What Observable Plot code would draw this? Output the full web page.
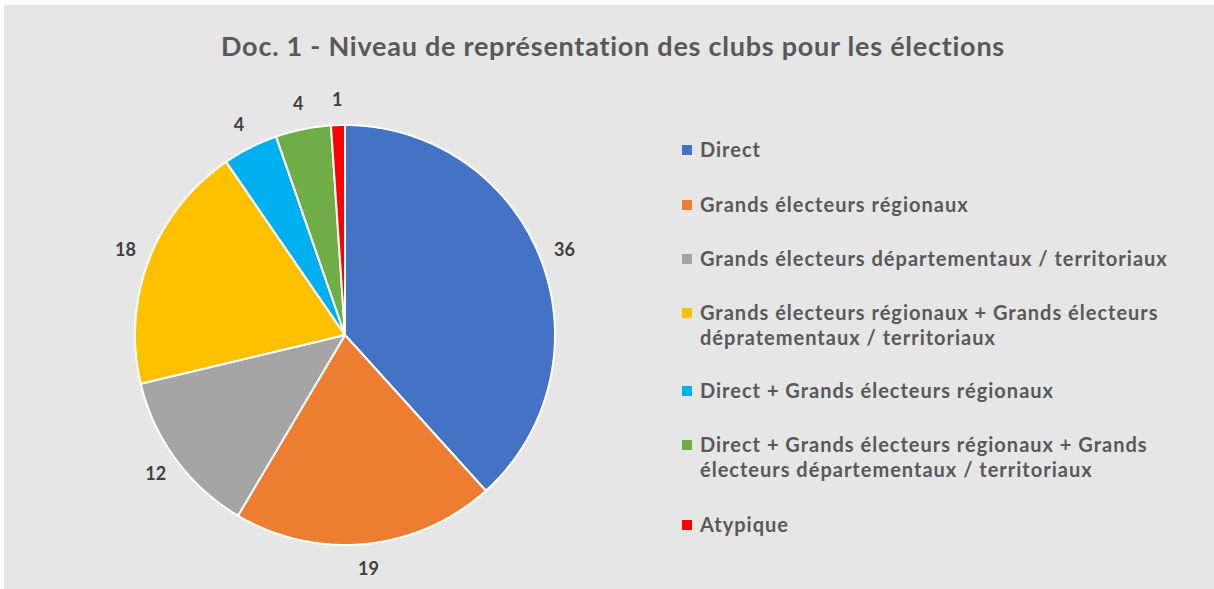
<!DOCTYPE html>
<html>
<head>
<meta charset="utf-8">
<script src="https://cdn.jsdelivr.net/npm/d3@7"></script>
<script src="https://cdn.jsdelivr.net/npm/@observablehq/plot@0.6"></script>
<style>
  html, body { margin: 0; padding: 0; background: #ffffff; overflow: hidden; }
  #frame { position: absolute; left: 4px; top: 5px; width: 1210px; height: 584px; background: #e6e6e6; }
  #title { position: absolute; left: 0; top: 29px; width: 1226px; text-align: center;
           font-family: Lato, sans-serif; font-weight: bold; font-size: 27px; letter-spacing: 0.75px; color: #595959; }
  #chart { position: absolute; left: 82px; top: 72px; }
  #legend { position: absolute; left: 683px; top: 0; font-family: Lato, sans-serif; font-weight: bold;
            font-size: 20px; letter-spacing: 1px; color: #595959; }
  .item { position: absolute; left: 0; width: 520px; line-height: 25px; }
  .sw { position: absolute; left: -1px; top: 8px; width: 10px; height: 10px; }
  .lbl { position: absolute; left: 17px; top: 0; white-space: nowrap; }
</style>
</head>
<body>
<div id="frame"></div>
<div id="title">Doc. 1 - Niveau de représentation des clubs pour les élections</div>
<div id="chart"></div>
<div id="legend"></div>
<script>
const categories = [
  "Direct",
  "Grands électeurs régionaux",
  "Grands électeurs départementaux / territoriaux",
  "Grands électeurs régionaux + Grands électeurs dépratementaux / territoriaux",
  "Direct + Grands électeurs régionaux",
  "Direct + Grands électeurs régionaux + Grands électeurs départementaux / territoriaux",
  "Atypique"
];
const values = [36, 19, 12, 18, 4, 4, 1];
const colors = ["#4472C4", "#ED7D31", "#A5A5A5", "#FFC000", "#00B0F0", "#70AD47", "#FF0000"];
const legendLines = [
  ["Direct"],
  ["Grands électeurs régionaux"],
  ["Grands électeurs départementaux / territoriaux"],
  ["Grands électeurs régionaux + Grands électeurs", "dépratementaux / territoriaux"],
  ["Direct + Grands électeurs régionaux"],
  ["Direct + Grands électeurs régionaux + Grands", "électeurs départementaux / territoriaux"],
  ["Atypique"]
];
const legendTops = [137, 192, 246, 300, 378, 432, 512];

const data = categories.map((c, i) => ({category: c, value: values[i], color: colors[i]}));
const arcs = d3.pie().sort(null).value(d => d.value)(data);

// slice polygons in unit coordinates (y down), angle 0 at 12 o'clock, clockwise
function pt(a, r) { return [r * Math.sin(a), -r * Math.cos(a)]; }
const features = arcs.map(a => {
  const n = Math.max(2, Math.ceil((a.endAngle - a.startAngle) / 0.01));
  const ring = [[0, 0]];
  for (let k = 0; k <= n; k++) ring.push(pt(a.startAngle + (a.endAngle - a.startAngle) * k / n, 1));
  ring.push([0, 0]);
  return {type: "Feature", properties: {category: a.data.category, color: a.data.color}, geometry: {type: "Polygon", coordinates: [ring]}};
});
const labels = arcs.map(a => {
  const m = (a.startAngle + a.endAngle) / 2;
  const [x, y] = pt(m, 1.12);
  return {x, y, text: String(a.data.value)};
});

const E = 1.25;
const size = 525;
const chart = Plot.plot({
  width: size,
  height: size,
  margin: 0,
  style: {background: "transparent", overflow: "visible"},
  projection: {type: "identity", domain: {type: "MultiPoint", coordinates: [[-E, -E], [E, E]]}},
  marks: [
    Plot.geo(features, {fill: d => d.properties.color, stroke: "#ffffff", strokeWidth: 2, strokeLinejoin: "round"}),
    Plot.text(labels, {x: "x", y: "y", text: "text", fontFamily: "Lato, sans-serif", fontWeight: "bold", fontSize: 18, letterSpacing: "1px", fill: "#404040"})
  ]
});
document.getElementById("chart").appendChild(chart);

const legend = document.getElementById("legend");
categories.forEach((c, i) => {
  const item = document.createElement("div");
  item.className = "item";
  item.style.top = legendTops[i] + "px";
  const sw = document.createElement("div");
  sw.className = "sw";
  sw.style.background = colors[i];
  item.appendChild(sw);
  const lbl = document.createElement("div");
  lbl.className = "lbl";
  lbl.innerHTML = legendLines[i].join("<br>");
  item.appendChild(lbl);
  legend.appendChild(item);
});
</script>
</body>
</html>
